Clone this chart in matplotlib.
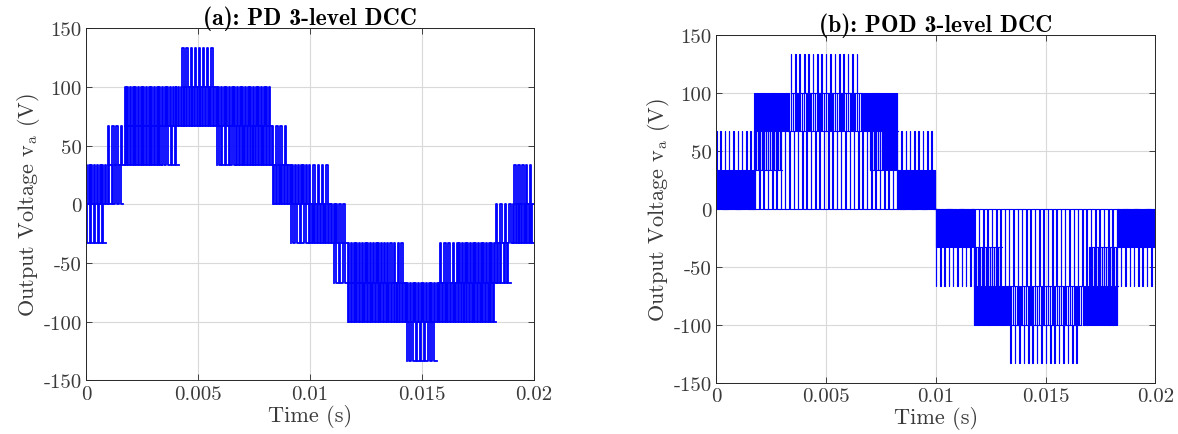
import numpy as np
import matplotlib
matplotlib.use("Agg")
import matplotlib.pyplot as plt

plt.rcParams['font.family'] = ['cmr10', 'DejaVu Serif']
plt.rcParams['mathtext.fontset'] = 'cm'
plt.rcParams['axes.unicode_minus'] = False

# ---------------- data ----------------
# Panel (a) PD: PWM bands, times in ms, voltages in V, pulse period in ms
a_start  = [0.00, 0.00, 0.98, 0.98, 1.73, 3.40, 1.73, 4.30, 5.86, 6.70, 8.29,
            8.36, 9.95, 9.15, 9.95, 11.30, 11.07, 11.70, 13.42, 11.71, 14.34,
            15.80, 16.55, 18.33, 18.30, 19.08, 19.12]
a_end    = [0.88, 0.98, 1.65, 1.73, 3.40, 4.15, 8.29, 5.77, 6.70, 8.29, 9.06,
            9.95, 10.92, 9.95, 11.30, 11.68, 11.70, 13.42, 14.24, 18.29, 15.65,
            16.55, 18.33, 18.96, 19.08, 20.00, 20.00]
a_low    = [-33.3, 0, 0, 33.3, 33.3, 33.3, 66.7, 100, 33.3, 33.3, 33.3,
            0, 0, -33.3, -33.3, -33.3, -66.7, -66.7, -66.7, -100, -133.3,
            -66.7, -66.7, -66.7, -33.3, -33.3, 0]
a_high   = [0, 33.3, 33.3, 66.7, 66.7, 66.7, 100, 133.3, 66.7, 66.7, 66.7,
            33.3, 33.3, 0, 0, 0, -33.3, -33.3, -33.3, -66.7, -100,
            -33.3, -33.3, -33.3, 0, 0, 33.3]
a_period = [0.18, 0.12, 0.18, 0.18, 0.12, 0.18, 0.12, 0.18, 0.18, 0.12, 0.18,
            0.12, 0.18, 0.18, 0.12, 0.18, 0.18, 0.12, 0.18, 0.12, 0.18,
            0.18, 0.12, 0.18, 0.18, 0.12, 0.18]

# Panel (b) POD: positive half-cycle bands (negative half mirrors them)
b_start  = [0.00, 8.30, 0.00, 1.73, 3.30, 6.70, 3.40, 1.73, 7.00]
b_end    = [1.73, 10.00, 10.00, 3.30, 6.70, 8.30, 6.60, 3.00, 8.30]
b_low    = [0, 0, 0, 66.7, 66.7, 66.7, 100, 33.3, 33.3]
b_high   = [33.3, 33.3, 66.7, 100, 100, 100, 133.3, 66.7, 66.7]
b_period = [0.05, 0.05, 0.195, 0.07, 0.10, 0.07, 0.195, 0.09, 0.09]
b_duty   = [0.55, 0.55, 0.12, 0.45, 0.25, 0.45, 0.15, 0.25, 0.25]
half_period_ms = 10.0

x_ticks = [0, 0.005, 0.01, 0.015, 0.02]
x_ticklabels = ['0', '0.005', '0.01', '0.015', '0.02']
y_ticks = [-150, -100, -50, 0, 50, 100, 150]
y_ticklabels = ['-150', '-100', '-50', '0', '50', '100', '150']
titles = ['(a): PD 3-level DCC', '(b): POD 3-level DCC']


def band_trace(t0, t1, lo, hi, period, duty):
    n = max(1, int(round((t1 - t0) / period)))
    p = (t1 - t0) / n
    xs, ys = [t0], [lo]
    for k in range(n):
        s = t0 + k * p
        e = s + duty * p
        xs += [s, s, e, e]
        ys += [lo, hi, hi, lo]
    xs.append(t1)
    ys.append(lo)
    return np.array(xs) / 1000.0, np.array(ys)


fig = plt.figure(figsize=(11.78, 4.35), dpi=100)
ax_a = fig.add_axes([0.0730, 0.1230, 0.3803, 0.8096])
ax_b = fig.add_axes([0.6078, 0.1179, 0.3730, 0.8000])

for t0, t1, lo, hi, per in zip(a_start, a_end, a_low, a_high, a_period):
    x, y = band_trace(t0, t1, lo, hi, per, 0.35)
    ax_a.plot(x, y, color='#0000ff', lw=1.3)

for t0, t1, lo, hi, per, du in zip(b_start, b_end, b_low, b_high, b_period, b_duty):
    x, y = band_trace(t0, t1, lo, hi, per, du)
    ax_b.plot(x, y, color='#0000ff', lw=0.8)
    x2, y2 = band_trace(t0 + half_period_ms, t1 + half_period_ms, -lo, -hi, per, du)
    ax_b.plot(x2, y2, color='#0000ff', lw=0.8)

for ax, title in zip([ax_a, ax_b], titles):
    ax.set_xlim(0, 0.02)
    ax.set_ylim(-150, 150)
    ax.set_xticks(x_ticks)
    ax.set_xticklabels(x_ticklabels)
    ax.set_yticks(y_ticks)
    ax.set_yticklabels(y_ticklabels)
    ax.grid(True, color='#d9d9d9', lw=0.8)
    ax.set_axisbelow(True)
    ax.tick_params(direction='in', top=True, right=True, labelsize=15,
                   length=4, width=0.6, color='#262626', labelcolor='#3a3a3a', pad=3)
    for sp in ax.spines.values():
        sp.set_color('#262626')
        sp.set_linewidth(0.7)
    ax.set_title(title, fontsize=17, family=['cmb10', 'DejaVu Serif'], pad=3)
    ax.set_xlabel('Time (s)', fontsize=16, labelpad=1, color='#3a3a3a')
    ax.set_ylabel(r'Output Voltage v$_{\mathrm{a}}$ (V)', fontsize=16,
                  labelpad=1, color='#3a3a3a')

fig.savefig('out.png', dpi=100, facecolor='white')
